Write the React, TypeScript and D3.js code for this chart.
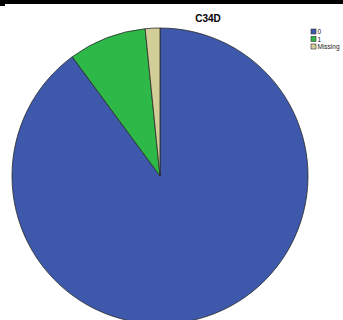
import React from "react";
import * as d3 from "d3";

const categories = ["0", "1", "Missing"];
const values = [89.9, 8.5, 1.6];
const colors = ["#3E58AC", "#2EB848", "#D3CE97"];
const title = "C34D";

export default function App() {
  const W = 343, H = 320;
  const cx = 160, cy = 176, r = 148;
  const pie = d3.pie<number>().sort(null).value((d) => d)(values);
  const arc = d3.arc<d3.PieArcDatum<number>>().innerRadius(0).outerRadius(r);
  return (
    <svg width={W} height={H} style={{ position: "fixed", left: 0, top: 0, background: "#fff" }}
      fontFamily="'Liberation Sans', Arial, sans-serif">
      <rect x={0} y={0} width={W} height={H} fill="#fff" />
      <g transform={`translate(${cx},${cy})`}>
        {pie.map((p, i) => (
          <path key={i} d={arc(p) || ""} fill={colors[i]} stroke="#2a2a2a" strokeWidth={0.8} strokeLinejoin="round" />
        ))}
      </g>
      <text x={208} y={22} textAnchor="middle" fontSize={10} fontWeight="bold" fill="#000">{title}</text>
      <g>
        {categories.map((c, i) => (
          <g key={c} transform={`translate(311,${29 + i * 7.5})`}>
            <rect x={0} y={0} width={5} height={5} fill={colors[i]} stroke="#333" strokeWidth={0.6} />
            <text x={6.5} y={5} fontSize={6.5} fill="#222">{c}</text>
          </g>
        ))}
      </g>
      <rect x={0} y={0} width={W} height={4} fill="#000" />
      <rect x={0} y={4} width={5} height={2} fill="#000" />
    </svg>
  );
}
